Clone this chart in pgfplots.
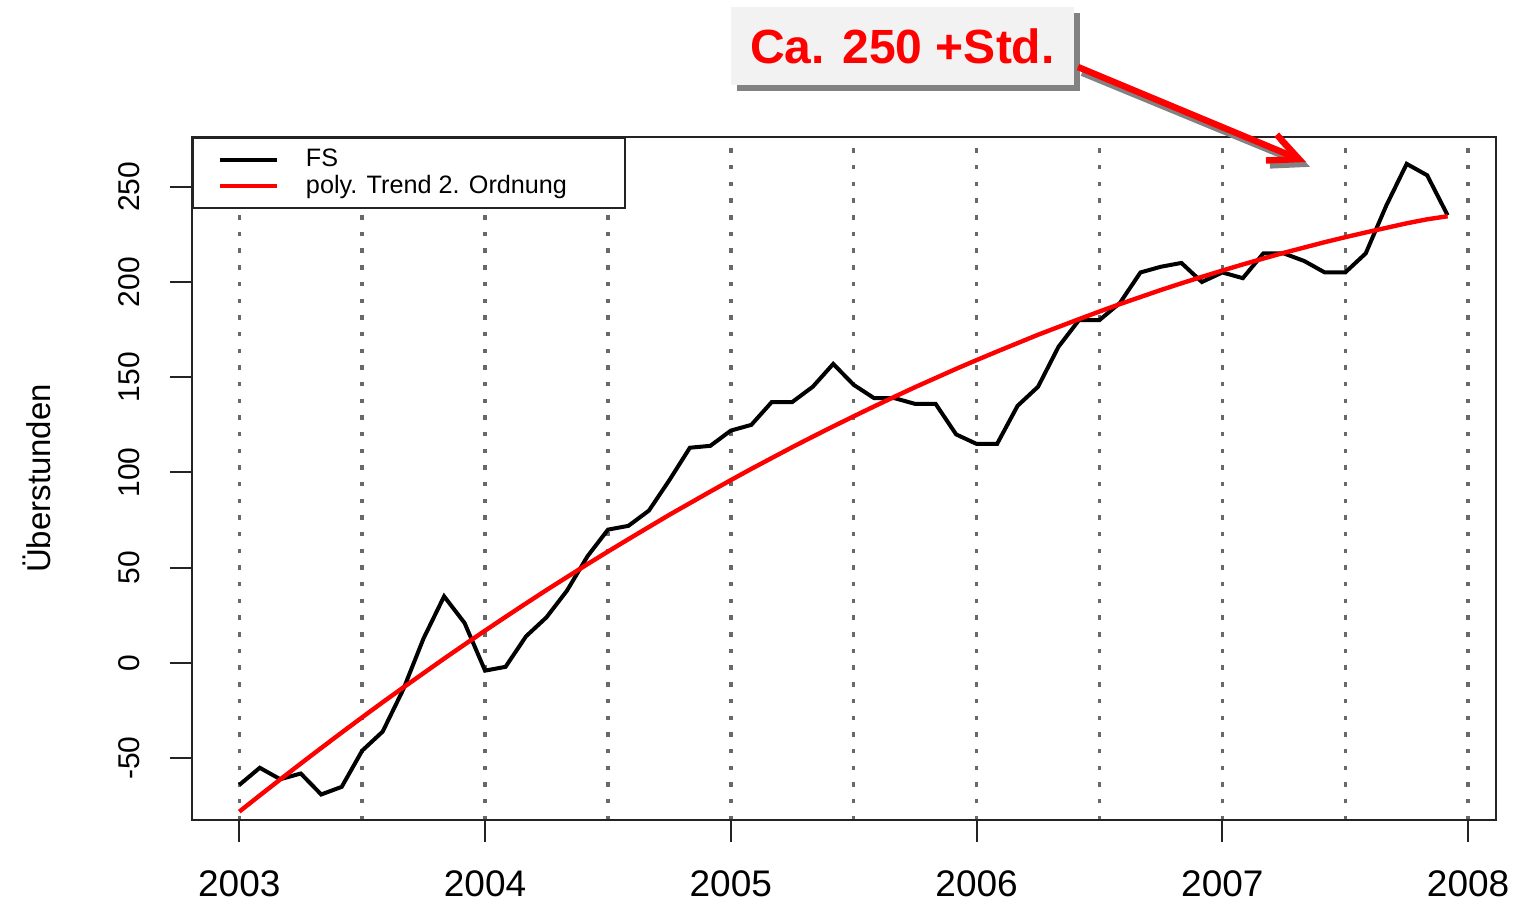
\documentclass[border=0pt]{standalone}
\usepackage{fontspec}
\setmainfont{Liberation Sans}
\usepackage{pgfplots}
\usepackage{pgfplotstable}
\pgfplotsset{compat=1.18}
\usetikzlibrary{arrows.meta}

\definecolor{gridgray}{RGB}{105,105,105}
\definecolor{axisgray}{RGB}{35,35,35}
\definecolor{boxgray}{RGB}{242,242,242}
\definecolor{shadowgray}{RGB}{130,130,130}

% month index (0 = Jan 2003), FS overtime hours, quadratic trend
\pgfplotstableread{
m fs trend
0 -64 -78.0
1 -55 -69.5
2 -61 -61.1
3 -58 -52.8
4 -69 -44.6
5 -65 -36.5
6 -46 -28.5
7 -36 -20.6
8 -14 -12.9
9 13 -5.3
10 35 2.3
11 21 9.7
12 -4 17.0
13 -2 24.2
14 14 31.3
15 24 38.3
16 38 45.1
17 56 51.9
18 70 58.5
19 72 65.0
20 80 71.4
21 96 77.8
22 113 83.9
23 114 90.0
24 122 96.0
25 125 101.9
26 137 107.6
27 137 113.3
28 145 118.8
29 157 124.2
30 146 129.5
31 139 134.7
32 139 139.8
33 136 144.8
34 136 149.6
35 120 154.4
36 115 159.0
37 115 163.5
38 135 167.9
39 145 172.3
40 166 176.4
41 180 180.5
42 180 184.5
43 189 188.4
44 205 192.1
45 208 195.8
46 210 199.3
47 200 202.7
48 205 206.0
49 202 209.2
50 215 212.3
51 215 215.3
52 211 218.1
53 205 220.9
54 205 223.5
55 215 226.0
56 240 228.4
57 262 230.8
58 256 232.9
59 235 234.5
}\fsdata

\begin{document}
\begin{tikzpicture}
\path[use as bounding box] (-48pt,-20.25pt) rectangle (330.5pt,205pt);
\begin{axis}[
    at={(0pt,0pt)}, anchor=south west,
    scale only axis, width=326pt, height=170.75pt,
    xmin=-2.31, xmax=61.36, ymin=-82.4, ymax=276.1,
    axis line style={axisgray, line width=0.5pt},
    tick align=outside, xtick pos=bottom, ytick pos=left,
    major tick length=5.5pt, minor tick length=0pt,
    tick style={axisgray, line width=0.5pt},
    xtick={0,12,24,36,48,60},
    xticklabels={2003,2004,2005,2006,2007,2008},
    minor xtick={6,18,30,42,54},
    xmajorgrids, xminorgrids,
    major grid style={gridgray, line width=0.85pt, dash pattern=on 1.1pt off 3.07pt},
    minor grid style={gridgray, line width=0.85pt, dash pattern=on 1.1pt off 3.07pt},
    ytick={-50,0,50,100,150,200,250},
    yticklabels={-50,0,50,100,150,200,250},
    xticklabel style={font=\fontsize{9.25}{10}\selectfont, anchor=center, yshift=-10.5pt},
    yticklabel style={font=\fontsize{7.5}{9}\selectfont, anchor=center, xshift=-10.3pt, rotate=90},
    ylabel={Überstunden},
    every axis y label/.style={at={(axis description cs:0,0.5)}, xshift=-38.75pt, rotate=90, anchor=center, font=\fontsize{8.25}{10}\selectfont},
    legend style={at={(axis description cs:0,1)}, anchor=north west,
        draw=axisgray, line width=0.5pt, fill=white,
        inner xsep=6.3pt, inner ysep=2.1pt, row sep=0pt, column sep=6.6pt,
        font=\fontsize{6.3}{7}\selectfont, nodes={inner sep=0pt}},
    legend cell align=left,
    legend image code/.code={\path (0pt,-2pt); \draw[#1] (0pt,0pt) -- (14.25pt,0pt);},
]
\addplot[black, line width=1pt] table[x=m, y=fs] {\fsdata};
\addlegendentry{\rule[-1.5pt]{0pt}{6.6pt}FS}
\addplot[red, line width=1.1pt] table[x=m, y=trend] {\fsdata};
\addlegendentry{\rule[-1.5pt]{0pt}{6.6pt}\makebox[73.5pt][l]{poly. Trend 2. Ordnung}}
\end{axis}

% annotation box with shadow and arrow
\fill[shadowgray] (136.25pt,182.25pt) rectangle (222pt,201.75pt);
\node[fill=boxgray, minimum width=85.75pt, minimum height=19.5pt, inner sep=0pt,
      text=red, font=\fontsize{12}{14}\bfseries\selectfont] at (177.6pt,193.5pt) {Ca. 250 +Std.};
\draw[shadowgray, line width=1.6pt, -{Straight Barb[length=7.5pt,width=7pt]}]
    (222.5pt,186.8pt) -- (279.5pt,163.3pt);
\draw[red, line width=1.6pt, -{Straight Barb[length=7.5pt,width=7pt]}]
    (221.5pt,188.25pt) -- (278.5pt,164.5pt);
\end{tikzpicture}
\end{document}
